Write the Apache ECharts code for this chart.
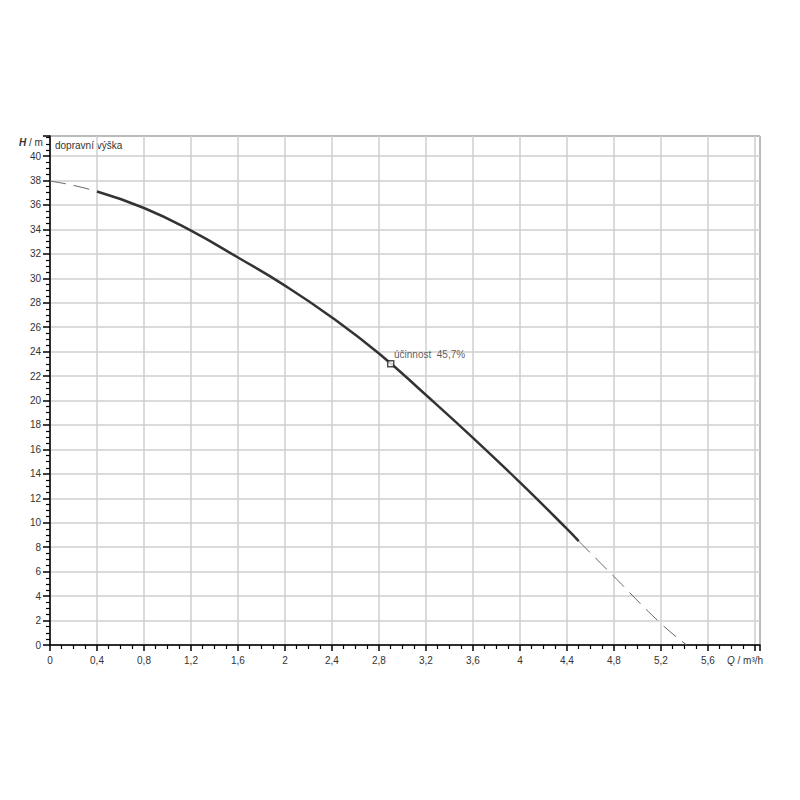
<!DOCTYPE html>
<html>
<head>
<meta charset="utf-8">
<script src="https://cdn.jsdelivr.net/npm/echarts@6/dist/echarts.min.js"></script>
<style>html,body{margin:0;padding:0;background:#fff}#c{width:800px;height:800px}</style>
</head>
<body>
<div id="c"></div>
<script>
// Pump curve H(Q): Q in m³/h, H in m
const dashedStartQ = [0, 0.2, 0.4];
const dashedStartH = [37.95, 37.6, 37.1];
const solidQ = [0.4, 0.8, 1.2, 1.6, 2.0, 2.4, 2.8, 3.2, 3.6, 4.0, 4.4, 4.5];
const solidH = [37.1, 35.75, 33.9, 31.7, 29.4, 26.8, 23.85, 20.45, 16.95, 13.3, 9.5, 8.5];
const dashedEndQ = [4.5, 4.8, 5.2, 5.42];
const dashedEndH = [8.5, 5.6, 1.75, 0];
const dutyQ = [2.9];
const dutyH = [23.0];
const dutyLabel = 'účinnost  45,7%';
const yTitle = 'dopravní výška';

const font = 'Liberation Sans, Arial, sans-serif';
const pairs = (q, h) => q.map((v, i) => [v, h[i]]);
const fmt = v => String(+(+v).toFixed(1)).replace('.', ',');

const chart = echarts.init(document.getElementById('c'), null, {renderer: 'svg'});
chart.setOption({
  animation: false,
  backgroundColor: '#fff',
  grid: {left: 50, top: 136, right: 40, bottom: 155, show: true, borderColor: '#000', borderWidth: 1},
  xAxis: {
    type: 'value', min: 0, max: 6.043, interval: 0.4,
    axisLine: {show: true, lineStyle: {color: '#000', width: 1.5}},
    axisTick: {show: true, length: 6, lineStyle: {color: '#000', width: 1.5}},
    minorTick: {show: true, splitNumber: 4, length: 4, lineStyle: {color: '#000', width: 1.2}},
    splitLine: {show: true, lineStyle: {color: '#cfcfcf', width: 1.5}},
    axisLabel: {
      margin: 10, fontSize: 10, color: '#333', fontFamily: font,
      showMaxLabel: false,
      formatter: v => (v > 5.7 ? '' : fmt(v))
    }
  },
  yAxis: {
    type: 'value', min: 0, max: 41.64, interval: 2,
    axisLine: {show: true, lineStyle: {color: '#000', width: 1.5}},
    axisTick: {show: true, length: 7, lineStyle: {color: '#000', width: 1.5}},
    minorTick: {show: true, splitNumber: 4, length: 4, lineStyle: {color: '#000', width: 1.2}},
    splitLine: {show: true, lineStyle: {color: '#cfcfcf', width: 1.5}},
    axisLabel: {
      margin: 9, fontSize: 10, color: '#333', fontFamily: font,
      showMaxLabel: false,
      formatter: v => (v > 40.5 ? '' : fmt(v))
    }
  },
  series: [
    {
      type: 'line', data: pairs(dashedStartQ, dashedStartH), symbol: 'none', smooth: true,
      lineStyle: {color: '#666', width: 1, type: [16, 8]}
    },
    {
      type: 'line', data: pairs(solidQ, solidH), symbol: 'none', smooth: 0.5,
      lineStyle: {color: '#333', width: 2.5}
    },
    {
      type: 'line', data: pairs(dashedEndQ, dashedEndH), symbol: 'none', smooth: true,
      lineStyle: {color: '#666', width: 1, type: [16, 8]}
    },
    {
      type: 'scatter', data: pairs(dutyQ, dutyH), symbol: 'rect', symbolSize: 6, z: 5,
      itemStyle: {color: '#fff', borderColor: '#222', borderWidth: 1.5},
      label: {
        show: true, position: [7, -11], formatter: dutyLabel,
        fontSize: 10, color: '#333', fontFamily: font
      }
    }
  ],
  graphic: [
    {
      type: 'text', left: 19, top: 137,
      style: {
        text: '{i|H} / m',
        rich: {i: {fontStyle: 'italic', fontWeight: 'bold', fontSize: 10, fontFamily: font, fill: '#333'}},
        fontSize: 10, fontFamily: font, fill: '#333'
      }
    },
    {
      type: 'text', left: 55, top: 140,
      style: {text: yTitle, fontSize: 10, fontFamily: font, fill: '#333'}
    },
    {
      type: 'text', left: 727, top: 655,
      style: {
        text: '{i|Q} / m³/h',
        rich: {i: {fontStyle: 'italic', fontSize: 10, fontFamily: font, fill: '#333'}},
        fontSize: 10, fontFamily: font, fill: '#333'
      }
    }
  ]
});
</script>
</body>
</html>
